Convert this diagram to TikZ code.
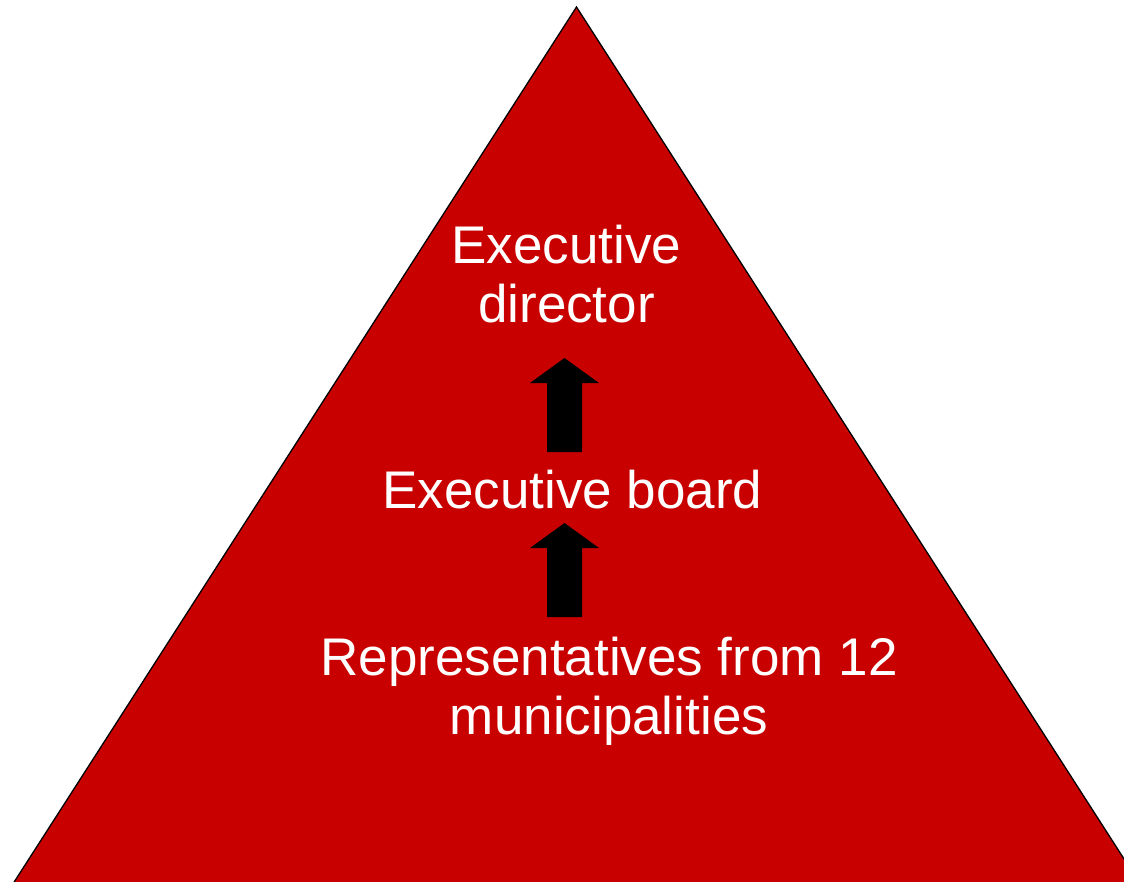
\documentclass[tikz,border=0pt]{standalone}
\usepackage{fontspec}
\setmainfont{Liberation Sans}
\definecolor{pyramidRed}{RGB}{201,0,0}
\begin{document}
\begin{tikzpicture}
[x=1pt,y=-1pt,
  levelDecorate/.style={text=white,font=\fontsize{53}{59}\selectfont,align=center,inner sep=0pt,anchor=base},
  arrowDecorate/.style={fill=black,draw=none}]
\useasboundingbox (0,0) rectangle (1124,882);
\clip (0,0) rectangle (1124,882);
%% pyramid
\filldraw[fill=pyramidRed,draw=black,line width=1.3pt]
  (576.5,7) -- (1144,890) -- (9,890) -- cycle;
%% block arrows
\foreach \arrowname/\ybot/\ytop in {lower/617/523, upper/452/358}
{
  \fill[arrowDecorate] (547,\ybot) -- (547,\ytop+25) -- (530,\ytop+25)
    -- (564.5,\ytop) -- (599,\ytop+25) -- (582,\ytop+25) -- (582,\ybot) -- cycle;
}
%% levels
\node[levelDecorate] (director) at (566.5,323) {Executive\\director};
\node[levelDecorate] (board) at (572.5,508) {Executive board};
\node[levelDecorate] (members) at (609,734) {Representatives from 12\\municipalities};
\end{tikzpicture}
\end{document}
